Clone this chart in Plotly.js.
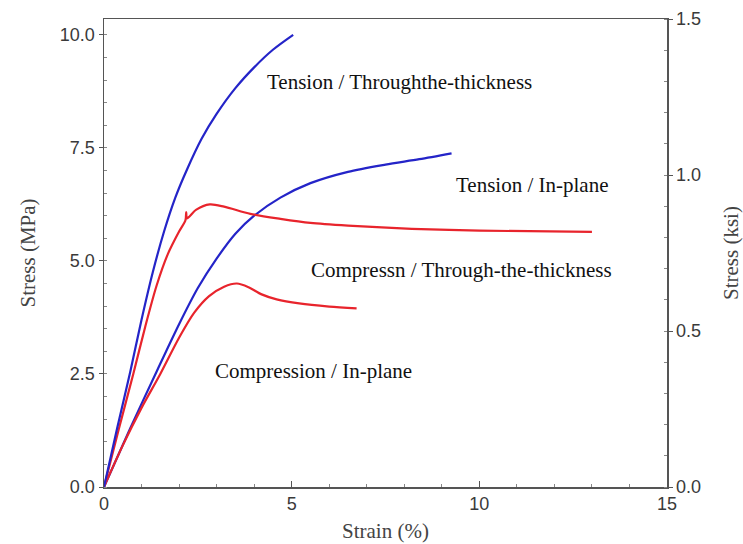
<!DOCTYPE html>
<html>
<head>
<meta charset="utf-8">
<script src="https://cdn.plot.ly/plotly-3.0.1.min.js"></script>
<style>html,body{margin:0;padding:0;background:#fff;}#chart{width:743px;height:544px;}</style>
</head>
<body>
<div id="chart"></div>
<script>
// Tension / Through-the-thickness (blue)
const tensionTTStrain = [0, 0.35, 0.7, 1.0, 1.3, 1.6, 1.9, 2.2, 2.6, 3.0, 3.5, 4.0, 4.5, 5.04];
const tensionTTStress = [0, 1.3, 2.55, 3.7, 4.75, 5.65, 6.4, 7.0, 7.7, 8.25, 8.82, 9.28, 9.67, 10.0];
// Tension / In-plane (blue)
const tensionIPStrain = [0, 0.7, 1.4, 2.0, 2.5, 3.0, 3.5, 4.0, 4.7, 5.5, 6.5, 7.5, 8.4, 9.26];
const tensionIPStress = [0, 1.3, 2.55, 3.6, 4.4, 5.05, 5.6, 6.0, 6.4, 6.72, 6.97, 7.13, 7.25, 7.38];
// Compression / Through-the-thickness (red)
const compTTStrain = [0, 0.4, 0.78, 1.1, 1.4, 1.7, 2.0, 2.17, 2.19, 2.21, 2.45, 2.82, 3.2, 3.9, 4.7, 5.5, 6.5, 8.2, 10.0, 13.0];
const compTTStress = [0, 1.3, 2.5, 3.55, 4.45, 5.15, 5.65, 5.9, 6.08, 5.94, 6.13, 6.25, 6.2, 6.04, 5.93, 5.84, 5.78, 5.71, 5.67, 5.64];
// Compression / In-plane (red)
const compIPStrain = [0, 0.5, 1.0, 1.5, 2.0, 2.4, 2.8, 3.2, 3.54, 3.85, 4.2, 4.6, 5.2, 6.0, 6.73];
const compIPStress = [0, 0.92, 1.75, 2.5, 3.3, 3.85, 4.22, 4.43, 4.5, 4.42, 4.26, 4.15, 4.06, 3.99, 3.95];

const labels = ["Tension / Throughthe-thickness", "Tension / In-plane", "Compressn / Through-the-thickness", "Compression / In-plane"];
const labelX = [4.29, 9.33, 5.46, 2.9];
const labelY = [8.96, 6.68, 4.8, 2.56];

const blue = "#2424c8";
const red = "#e8242c";

function tr(x, y, c) {
  return {x: x, y: y, type: "scatter", mode: "lines", line: {color: c, width: 2.2, shape: "spline", smoothing: 0.8}, hoverinfo: "skip", showlegend: false};
}

const data = [
  tr(tensionIPStrain, tensionIPStress, blue),
  tr(compIPStrain, compIPStress, red),
  tr(compTTStrain, compTTStress, red),
  tr(tensionTTStrain, tensionTTStress, blue),
  {x: [0, 15], y: [0, 1.5], yaxis: "y2", type: "scatter", mode: "markers", marker: {opacity: 0}, hoverinfo: "skip", showlegend: false}
];

const annotations = labels.map((t, i) => ({
  x: labelX[i], y: labelY[i], xref: "x", yref: "y", text: t, showarrow: false,
  xanchor: "left", yanchor: "middle",
  font: {family: "Liberation Serif, Times New Roman, serif", size: 21, color: "#111"}
}));

const axisFont = {family: "Liberation Sans, Arial, sans-serif", size: 18, color: "#3a3a3a"};
const titleFont = {family: "Liberation Serif, Times New Roman, serif", size: 21, color: "#444"};

const layout = {
  width: 743, height: 544,
  margin: {l: 104, r: 76, t: 19, b: 57},
  paper_bgcolor: "#fff", plot_bgcolor: "#fff",
  xaxis: {
    range: [0, 15], tickvals: [0, 5, 10, 15], showgrid: false, zeroline: false,
    showline: true, mirror: true, linecolor: "#555", linewidth: 1.5,
    ticks: "inside", ticklen: 6, tickcolor: "#555",
    minor: {dtick: 1, ticks: "inside", ticklen: 3, tickcolor: "#888"},
    tickfont: axisFont,
    title: {text: "Strain (%)", font: titleFont, standoff: 10}
  },
  yaxis: {
    range: [0, 10.35], tickvals: [0, 2.5, 5, 7.5, 10], tickformat: ".1f",
    showgrid: false, zeroline: false, showline: true, linecolor: "#555", linewidth: 1.5,
    ticks: "outside", ticklen: 4, tickcolor: "#555",
    minor: {dtick: 0.5, ticks: "inside", ticklen: 3, tickcolor: "#888"},
    tickfont: axisFont,
    title: {text: "Stress (MPa)", font: titleFont, standoff: 18}
  },
  yaxis2: {
    range: [0, 1.5], tickvals: [0, 0.5, 1.0, 1.5], tickformat: ".1f",
    overlaying: "y", side: "right", showgrid: false, zeroline: false,
    showline: true, linecolor: "#555", linewidth: 1.5,
    ticks: "outside", ticklen: 4, tickcolor: "#555",
    minor: {dtick: 0.1, ticks: "inside", ticklen: 3, tickcolor: "#888"},
    tickfont: axisFont,
    title: {text: "Stress (ksi)", font: titleFont, standoff: 24}
  },
  annotations: annotations
};

Plotly.newPlot("chart", data, layout, {displayModeBar: false, staticPlot: true});
</script>
</body>
</html>
